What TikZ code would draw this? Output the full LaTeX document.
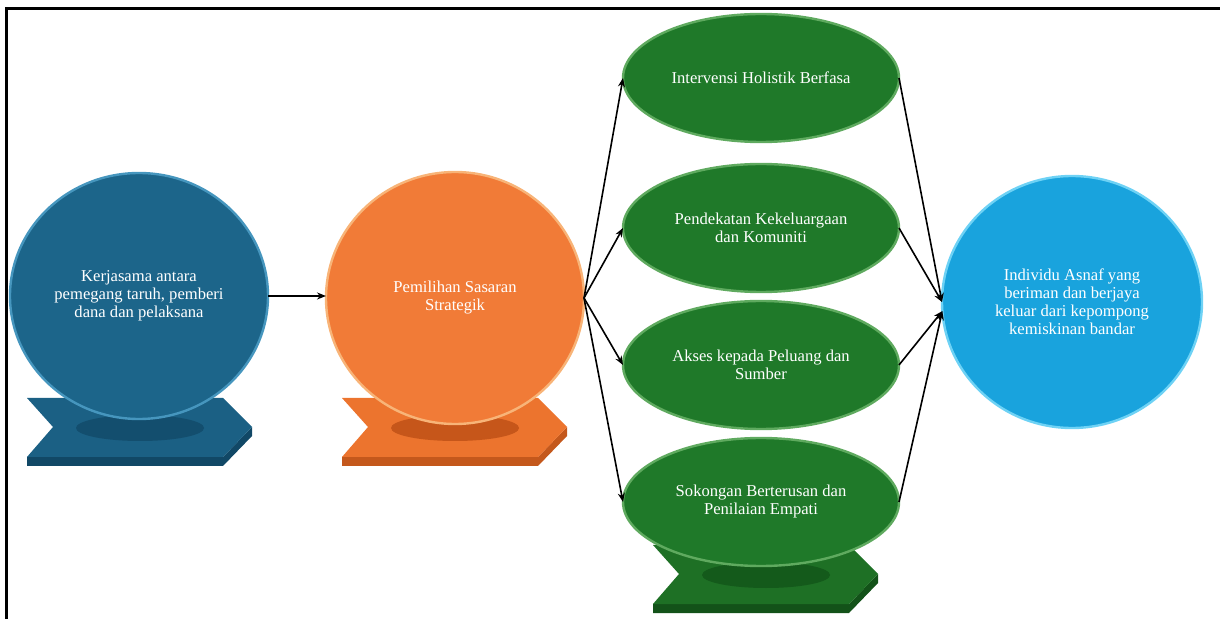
\documentclass[tikz,border=0pt]{standalone}
\usepackage{fontspec}
\setmainfont{Liberation Serif}
\usetikzlibrary{shapes.geometric, arrows.meta}

\definecolor{bluemain}{RGB}{28,101,138}
\definecolor{bluerim}{RGB}{70,150,190}
\definecolor{bluebase}{RGB}{27,96,132}
\definecolor{blueside}{RGB}{17,72,102}
\definecolor{blueshade}{RGB}{19,78,110}
\definecolor{orangemain}{RGB}{241,123,55}
\definecolor{orangerim}{RGB}{248,180,120}
\definecolor{orangebase}{RGB}{236,116,46}
\definecolor{orangeside}{RGB}{196,88,28}
\definecolor{orangeshade}{RGB}{198,86,26}
\definecolor{greenmain}{RGB}{31,121,41}
\definecolor{greenrim}{RGB}{95,170,95}
\definecolor{greenbase}{RGB}{30,112,37}
\definecolor{greenside}{RGB}{19,82,25}
\definecolor{greenshade}{RGB}{20,90,27}
\definecolor{skymain}{RGB}{25,163,221}
\definecolor{skyrim}{RGB}{110,210,245}

\begin{document}
\begin{tikzpicture}[x=0.5pt, y=-0.5pt,
    bubble/.style={ellipse, inner sep=0pt, outer sep=0pt, align=center,
        text=white, line width=1.2pt, font=\fontsize{8.3}{9}\selectfont},
    disc/.style={bubble, minimum width=129pt, minimum height=123pt},
    oval/.style={bubble, fill=greenmain, draw=greenrim,
        minimum width=138pt, minimum height=64pt},
    link/.style={-{Stealth[length=4.5pt, width=3.5pt]}, line width=0.8pt, black}]

    \useasboundingbox (0,0) rectangle (1220,619);

    % Frame
    \draw[line width=1.5pt] (6.5,619) -- (6.5,8.5) -- (1220,8.5);

    % Stands (side, top face, shadow)
    \foreach \bx/\by/\ctop/\cside/\cshade in {27/398/bluebase/blueside/blueshade,
                                            342/398/orangebase/orangeside/orangeshade,
                                            653/545/greenbase/greenside/greenshade}{
        \fill[\cside] (\bx,\by+59) -- ++(196,0) -- ++(29,-30) -- ++(0,9) -- ++(-29,30) -- ++(-196,0) -- cycle;
        \fill[\ctop] (\bx,\by) -- ++(196,0) -- ++(29,29) -- ++(-29,30) -- ++(-196,0) -- ++(26,-30) -- cycle;
        \fill[\cshade] (\bx+113,\by+30) ellipse (64 and 13);
    }

    % Discs
    \node[disc, fill=bluemain, draw=bluerim] (kerja) at (139,296)
        {Kerjasama antara\\pemegang taruh, pemberi\\dana dan pelaksana};
    \node[disc, fill=orangemain, draw=orangerim, minimum height=126pt] (pilih) at (455,298)
        {Pemilihan Sasaran\\Strategik};
    \node[disc, fill=skymain, draw=skyrim, minimum width=130pt, minimum height=126pt] (asnaf) at (1072,302)
        {Individu Asnaf yang\\beriman dan berjaya\\keluar dari kepompong\\kemiskinan bandar};

    % Strategies
    \foreach \i/\gy/\txt in {1/78/{Intervensi Holistik Berfasa},
                             2/228/{Pendekatan Kekeluargaan\\dan Komuniti},
                             3/365/{Akses kepada Peluang dan\\Sumber},
                             4/502/{Sokongan Berterusan dan\\Penilaian Empati}}{
        \node[oval] (g\i) at (761,\gy) {\txt};
    }

    % Arrows
    \draw[link] (kerja.east) -- (kerja.east -| pilih.west);
    \foreach \i/\a in {1/180, 2/180, 3/184, 4/184}{
        \draw[link] (pilih.east) -- (g\i.west);
        \draw[link] (g\i.east) -- (asnaf.\a);
    }

\end{tikzpicture}
\end{document}
